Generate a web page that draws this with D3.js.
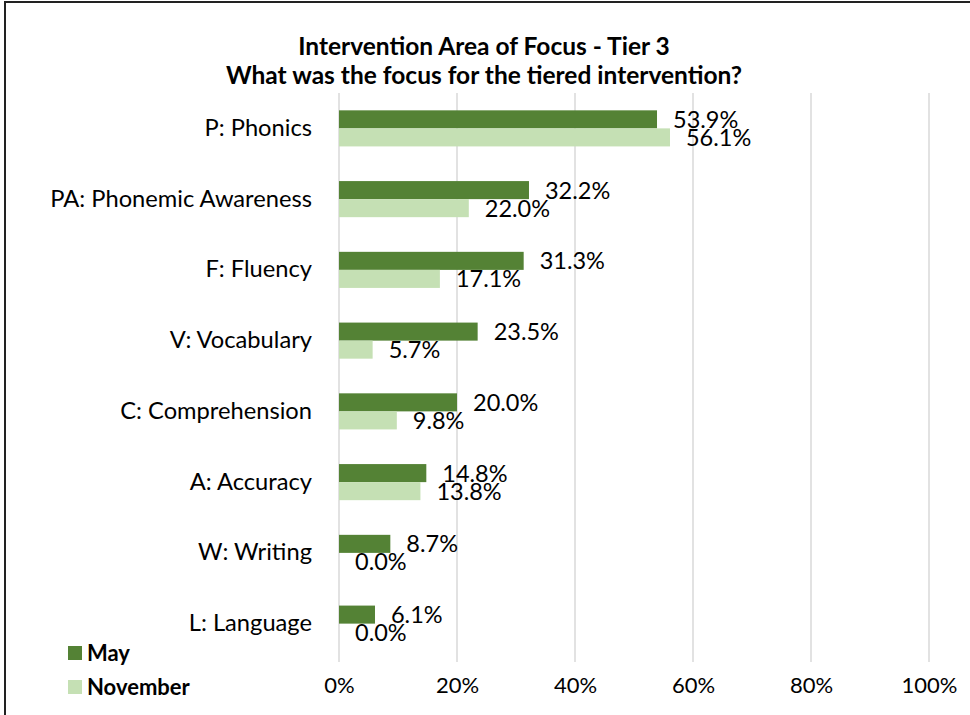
<!DOCTYPE html>
<html lang="en">
<head>
<meta charset="utf-8">
<title>Intervention Area of Focus - Tier 3</title>
<script src="https://cdn.jsdelivr.net/npm/d3@7"></script>
<style>
  body { margin: 0; background: #fff; }
  text { font-family: Lato, "Open Sans", sans-serif; fill: #000; }
  .grid line { stroke: #d9d9d9; stroke-width: 1.5px; }
</style>
</head>
<body>
<svg id="chart" width="970" height="715"></svg>
<script>
// chart data
const categories = ["P: Phonics", "PA: Phonemic Awareness", "F: Fluency", "V: Vocabulary",
                    "C: Comprehension", "A: Accuracy", "W: Writing", "L: Language"];
const seriesNames = ["May", "November"];
const mayValues = [53.9, 32.2, 31.3, 23.5, 20.0, 14.8, 8.7, 6.1];
const novemberValues = [56.1, 22.0, 17.1, 5.7, 9.8, 13.8, 0.0, 0.0];
const xTicks = [0, 20, 40, 60, 80, 100];
const colors = ["#548235", "#c5e0b4"];

const svg = d3.select("#chart");

// frame
svg.append("path")
  .attr("d", "M5,720 V2 H975")
  .attr("fill", "none")
  .attr("stroke", "#222")
  .attr("stroke-width", 2);

// title
svg.append("text").attr("x", 484).attr("y", 55)
  .attr("text-anchor", "middle").attr("font-weight", "bold").attr("font-size", 24.5)
  .text("Intervention Area of Focus - Tier 3");
svg.append("text").attr("x", 484).attr("y", 84)
  .attr("text-anchor", "middle").attr("font-weight", "bold").attr("font-size", 24.5)
  .text("What was the focus for the tiered intervention?");

let x = d3.scaleLinear().domain([0, 100]).range([339, 929]);
let y = d3.scaleBand().domain(categories).range([93, 659]).paddingInner(0.49).paddingOuter(0.245);
let sub = d3.scaleBand().domain(seriesNames).range([0, y.bandwidth()]);

// gridlines
svg.append("g").attr("class", "grid")
  .selectAll("line").data(xTicks).enter().append("line")
  .attr("x1", d => x(d)).attr("x2", d => x(d))
  .attr("y1", 93).attr("y2", 662);

// x axis labels
let xAxis = d3.axisBottom(x).tickValues(xTicks).tickSize(0).tickPadding(0).tickFormat(d => d + "%");
let gx = svg.append("g").attr("transform", "translate(0,677)").call(xAxis);
gx.select(".domain").remove();
gx.selectAll("text").attr("font-size", 22).attr("font-family", "Lato, sans-serif").attr("fill", "#000");

// category labels
let yAxis = d3.axisLeft(y).tickSize(0).tickPadding(27);
let gy = svg.append("g").attr("transform", "translate(339,0)").call(yAxis);
gy.select(".domain").remove();
gy.selectAll("text").attr("font-size", 23.7).attr("font-family", "Lato, sans-serif").attr("fill", "#000");

// bars
const rows = categories.map((c, i) => ({ cat: c, values: [mayValues[i], novemberValues[i]] }));
let group = svg.selectAll(".row").data(rows).enter().append("g")
  .attr("class", "row")
  .attr("transform", d => "translate(0," + y(d.cat) + ")");

group.selectAll("rect").data(d => d.values.map((v, j) => ({ v: v, s: seriesNames[j], j: j })))
  .enter().append("rect")
  .attr("x", x(0))
  .attr("y", d => sub(d.s))
  .attr("width", d => x(d.v) - x(0))
  .attr("height", sub.bandwidth())
  .attr("fill", d => colors[d.j]);

group.selectAll("text.lbl").data(d => d.values.map((v, j) => ({ v: v, s: seriesNames[j] })))
  .enter().append("text")
  .attr("class", "lbl")
  .attr("x", d => x(d.v) + 16)
  .attr("y", d => sub(d.s) + sub.bandwidth() / 2)
  .attr("dy", "0.36em")
  .attr("font-size", 23.5)
  .text(d => d.v.toFixed(1) + "%");

// legend
let legend = svg.selectAll(".legend").data(seriesNames).enter().append("g")
  .attr("transform", (d, i) => "translate(68," + (653 + i * 34) + ")");
legend.append("rect").attr("x", 0).attr("y", -7).attr("width", 14).attr("height", 14)
  .attr("fill", (d, i) => colors[i]);
legend.append("text").attr("x", 19).attr("dy", "0.36em")
  .attr("font-size", 22).attr("font-weight", "bold").text(d => d);
</script>
</body>
</html>
